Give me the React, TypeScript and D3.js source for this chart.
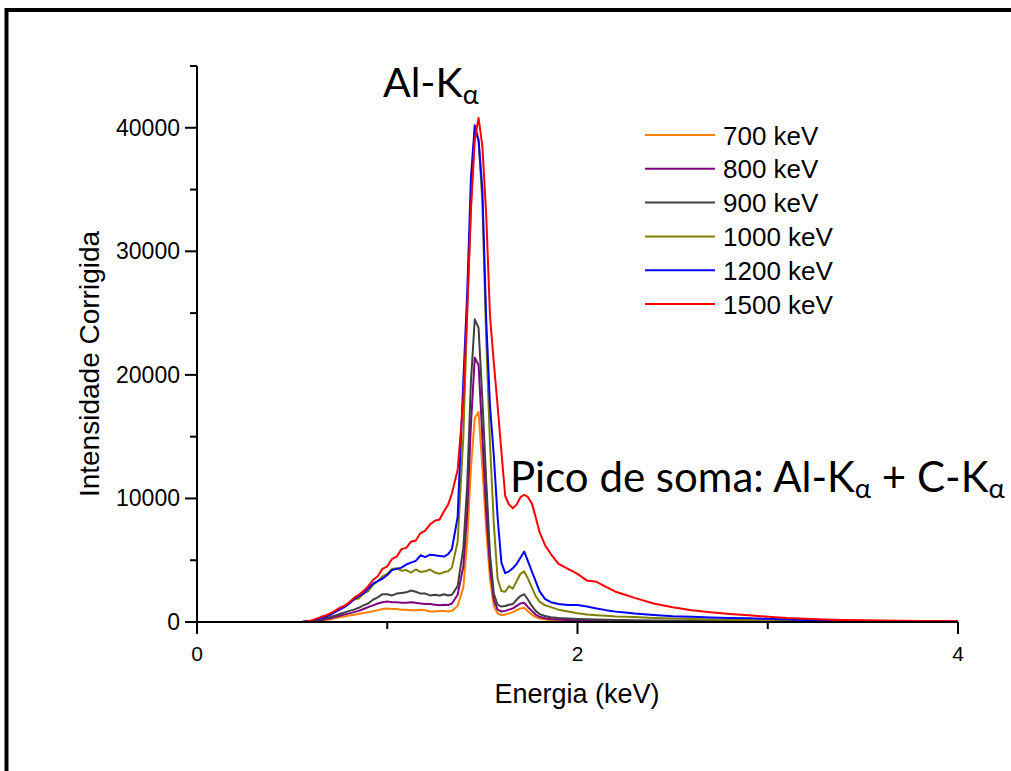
import React from "react";
import * as d3 from "d3";

const energies = [0.12, 0.55,
  0.60, 0.625, 0.65, 0.675, 0.70, 0.725, 0.75, 0.775, 0.80, 0.825,
  0.85, 0.875, 0.90, 0.925, 0.95, 0.975, 1.00, 1.025, 1.05, 1.075,
  1.10, 1.125, 1.15, 1.175, 1.20, 1.225, 1.25, 1.275, 1.30, 1.32, 1.34,
  1.37, 1.40,
  1.42, 1.44, 1.46, 1.48, 1.50, 1.52, 1.54, 1.56, 1.58, 1.60,
  1.62, 1.64, 1.66, 1.68, 1.70, 1.72, 1.74, 1.76, 1.78, 1.80,
  1.83, 1.86, 1.90, 1.95, 2.00, 2.05, 2.10, 2.15, 2.20, 2.25,
  2.30, 2.40, 2.50, 2.60, 2.70, 2.80, 2.90, 3.00, 3.10, 3.20,
  3.30, 3.40, 3.50, 3.60, 3.70, 3.80, 3.90, 4.00];

const s700 = [0, 0,
  30, 60, 100, 160, 220, 300, 380, 450, 520, 580,
  650, 720, 800, 870, 950, 1050, 1100, 1050, 1050, 1000,
  1000, 950, 950, 1000, 950, 850, 850, 900, 900, 850, 900,
  1300, 2800,
  6500, 12500, 16500, 17000, 12500, 7500, 3500, 1300, 700, 550,
  600, 700, 800, 950, 1100, 1150, 850, 600, 400, 280,
  200, 160, 130, 110, 100, 90, 80, 70, 60, 55,
  50, 45, 40, 35, 30, 28, 25, 22, 20, 18,
  16, 14, 12, 11, 10, 10, 10, 10];

const s800 = [0, 0,
  50, 100, 150, 220, 300, 400, 500, 600, 700, 800,
  900, 1050, 1200, 1350, 1500, 1600, 1650, 1600, 1600, 1550,
  1550, 1600, 1550, 1500, 1450, 1450, 1400, 1350, 1400, 1380, 1500,
  2200, 4500,
  8800, 16000, 21400, 20800, 15000, 9000, 4500, 1800, 1000, 850,
  900, 1000, 1100, 1300, 1500, 1550, 1200, 900, 600, 420,
  300, 240, 200, 170, 150, 130, 120, 110, 100, 90,
  80, 70, 60, 55, 50, 45, 40, 35, 30, 28,
  25, 22, 20, 18, 16, 15, 14, 12];

const s900 = [0, 0,
  60, 120, 200, 300, 400, 520, 650, 780, 900, 1000,
  1150, 1350, 1500, 1800, 2000, 2250, 2250, 2150, 2300, 2350,
  2400, 2550, 2450, 2300, 2300, 2150, 2200, 2150, 2250, 2150, 2200,
  2900, 6000,
  11000, 19500, 24500, 23800, 18000, 11500, 5500, 2300, 1400, 1250,
  1300, 1400, 1450, 1800, 2100, 2250, 1800, 1300, 900, 650,
  480, 380, 320, 280, 250, 220, 200, 180, 170, 160,
  150, 130, 110, 100, 90, 80, 70, 60, 55, 50,
  45, 40, 35, 30, 30, 25, 25, 20];

const s1000 = [0, 0,
  80, 180, 300, 420, 600, 850, 1050, 1300, 1500, 1800,
  1900, 2300, 2500, 3000, 3300, 3700, 3900, 4300, 4350, 4150,
  4200, 4000, 4250, 4050, 4100, 4250, 4000, 3900, 4050, 4100, 4400,
  6500, 15000,
  25000, 33500, 39800, 39000, 34000, 23000, 14500, 8000, 3500, 2500,
  2450, 2900, 2700, 3300, 3900, 4100, 3500, 2800, 2100, 1650,
  1350, 1200, 1000, 850, 700, 600, 550, 500, 450, 430,
  400, 330, 280, 240, 200, 180, 160, 140, 120, 100,
  90, 80, 70, 60, 50, 50, 40, 40];

const s1200 = [0, 0,
  100, 180, 300, 420, 600, 800, 1000, 1200, 1500, 1850,
  2100, 2300, 2700, 3100, 3300, 3500, 3800, 4200, 4300, 4400,
  4650, 4800, 4950, 5400, 5250, 5450, 5400, 5350, 5300, 5500, 5900,
  8500, 19500,
  26500, 36000, 40200, 39000, 35000, 24500, 17500, 13500, 8500, 4800,
  3950, 4100, 4350, 4700, 5200, 5700, 4900, 4100, 3300, 2500,
  1850, 1600, 1450, 1380, 1380, 1250, 1100, 960, 840, 760,
  680, 560, 470, 420, 370, 330, 300, 260, 210, 170,
  150, 120, 100, 90, 80, 70, 60, 50];

const s1500 = [0, 0,
  100, 250, 400, 520, 700, 900, 1150, 1300, 1600, 1950,
  2200, 2500, 2900, 3400, 3700, 4300, 4500, 5100, 5300, 5900,
  6000, 6500, 6600, 7200, 7400, 7900, 8200, 8300, 9000, 9500, 10400,
  12300, 18000,
  25000, 33500, 39000, 40800, 38500, 33000, 24800, 21000, 17500, 13800,
  10200, 9500, 9200, 9500, 10100, 10300, 10100, 9600, 8500, 7300,
  6200, 5500, 4700, 4300, 3900, 3350, 3250, 2850, 2450, 2200,
  1950, 1500, 1200, 950, 780, 650, 550, 430, 320, 260,
  210, 170, 140, 120, 100, 90, 80, 60];

const seriesLabels = ["700 keV", "800 keV", "900 keV", "1000 keV", "1200 keV", "1500 keV"];
const seriesColors = ["#FF8000", "#800080", "#404040", "#808000", "#0000FF", "#FF0000"];
const seriesValues = [s700, s800, s900, s1000, s1200, s1500];

const xMajorTicks = [0, 2, 4];
const xMinorTicks = [1, 3];
const yMajorTicks = [0, 10000, 20000, 30000, 40000];
const yMinorTicks = [5000, 15000, 25000, 35000, 45000];

const W = 1011;
const H = 771;

export default function App() {
  const x = d3.scaleLinear().domain([0, 4]).range([197, 958]);
  const y = d3.scaleLinear().domain([0, 45000]).range([622, 66]);
  const line = d3
    .line<number>()
    .x((_, i) => x(energies[i]))
    .y((d) => y(d));

  const axisFont = "'Liberation Sans', Arial, sans-serif";
  const annFont = "Lato, 'Open Sans', sans-serif";

  return (
    <svg
      width={W}
      height={H}
      style={{ position: "absolute", left: 0, top: 0, background: "#fff" }}
    >
      <rect x={0} y={0} width={W} height={H} fill="#fff" />
      {/* frame */}
      <line x1={6.5} x2={6.5} y1={8} y2={H} stroke="#000" strokeWidth={4} />
      <line x1={5} x2={W} y1={10} y2={10} stroke="#000" strokeWidth={4} />

      {/* data */}
      {seriesValues.map((vals, i) => (
        <path
          key={seriesLabels[i]}
          d={line(vals) || ""}
          fill="none"
          stroke={seriesColors[i]}
          strokeWidth={2}
          strokeLinejoin="round"
        />
      ))}

      {/* axes */}
      <line x1={x(0)} x2={x(4)} y1={y(0)} y2={y(0)} stroke="#000" strokeWidth={2} />
      <line x1={x(0)} x2={x(0)} y1={y(0)} y2={y(45000)} stroke="#000" strokeWidth={2} />
      {xMajorTicks.map((t) => (
        <g key={"xm" + t}>
          <line x1={x(t)} x2={x(t)} y1={y(0)} y2={y(0) + 12} stroke="#000" strokeWidth={2} />
          <text
            x={x(t)}
            y={661}
            textAnchor="middle"
            fontFamily={axisFont}
            fontSize={21}
            fill="#000"
          >
            {t}
          </text>
        </g>
      ))}
      {xMinorTicks.map((t) => (
        <line key={"xn" + t} x1={x(t)} x2={x(t)} y1={y(0)} y2={y(0) + 7} stroke="#000" strokeWidth={2} />
      ))}
      {yMajorTicks.map((t) => (
        <g key={"ym" + t}>
          <line x1={x(0) - 12} x2={x(0)} y1={y(t)} y2={y(t)} stroke="#000" strokeWidth={2} />
          <text
            x={x(0) - 17}
            y={y(t) + 8}
            textAnchor="end"
            fontFamily={axisFont}
            fontSize={23}
            fill="#000"
          >
            {t}
          </text>
        </g>
      ))}
      {yMinorTicks.map((t) => (
        <line key={"yn" + t} x1={x(0) - 7} x2={x(0)} y1={y(t)} y2={y(t)} stroke="#000" strokeWidth={2} />
      ))}

      {/* axis titles */}
      <text
        x={577}
        y={703}
        textAnchor="middle"
        fontFamily={axisFont}
        fontSize={27}
        fill="#000"
      >
        Energia (keV)
      </text>
      <text
        transform={`translate(99, 364) rotate(-90)`}
        textAnchor="middle"
        fontFamily={axisFont}
        fontSize={28}
        fill="#000"
      >
        Intensidade Corrigida
      </text>

      {/* legend */}
      {seriesLabels.map((lab, i) => {
        const cy = 135 + i * 33.8;
        return (
          <g key={"lg" + lab}>
            <line x1={645} x2={715} y1={cy} y2={cy} stroke={seriesColors[i]} strokeWidth={2} />
            <text
              x={723}
              y={cy + 9.5}
              fontFamily={axisFont}
              fontSize={26}
              fill="#000"
            >
              {lab}
            </text>
          </g>
        );
      })}

      {/* annotations */}
      <text x={383} y={97} fontFamily={annFont} fontSize={41} fill="#000">
        Al-K
        <tspan dy={7} fontSize={27}>α</tspan>
      </text>
      <text x={510} y={492} fontFamily={annFont} fontSize={42} fill="#000">
        Pico de soma: Al-K
        <tspan dy={6} fontSize={27.5}>α</tspan>
        <tspan dy={-6}> + C-K</tspan>
        <tspan dy={6} fontSize={27.5}>α</tspan>
      </text>
    </svg>
  );
}
